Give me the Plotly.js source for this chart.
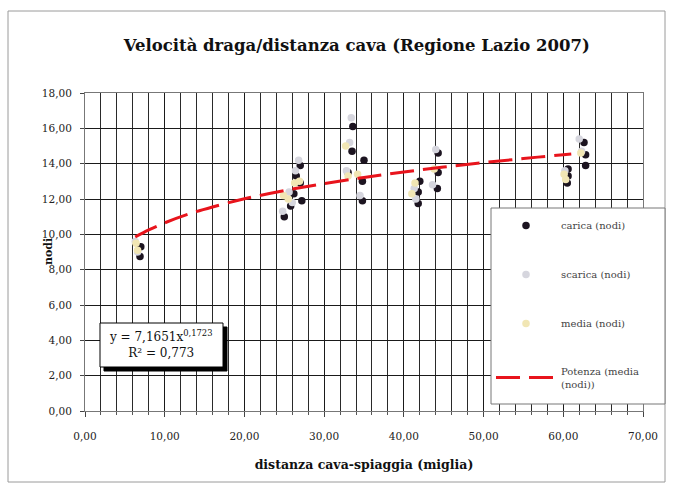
<!DOCTYPE html>
<html>
<head>
<meta charset="utf-8">
<script src="https://cdn.plot.ly/plotly-3.0.1.min.js"></script>
<style>
html,body{margin:0;padding:0;background:#fff;}
#chart{width:673px;height:488px;}
</style>
</head>
<body>
<div id="chart"></div>
<script>
// ---- data ----
const caricaX = [7.0, 6.9, 25.0, 25.8, 26.2, 26.5, 27.0, 27.0, 27.2, 33.6, 33.5, 35.0, 34.8, 34.8, 33.0, 44.3, 44.3, 44.2, 42.0, 41.8, 41.8, 62.6, 62.8, 62.8, 60.6, 60.6, 60.5];
const caricaY = [9.3, 8.75, 11.0, 11.6, 12.3, 13.3, 13.9, 12.9, 11.9, 16.1, 14.7, 14.2, 13.0, 11.9, 13.5, 14.6, 13.5, 12.6, 13.0, 12.4, 11.75, 15.2, 14.5, 13.9, 13.7, 13.3, 12.9];

const scaricaX = [6.3, 6.6, 24.8, 25.6, 26.4, 26.8, 26.0, 33.4, 32.8, 34.5, 33.2, 44.0, 43.6, 41.5, 41.3, 62.0, 60.2, 62.3];
const scaricaY = [9.6, 9.0, 11.3, 12.4, 13.6, 14.2, 11.8, 16.6, 13.6, 12.2, 15.2, 14.8, 12.8, 12.0, 12.6, 15.4, 13.6, 14.7];

const mediaX = [6.4, 6.6, 24.9, 25.5, 26.3, 26.9, 32.7, 33.0, 34.2, 41.0, 41.4, 43.8, 62.2, 60.1, 60.3];
const mediaY = [9.5, 9.1, 12.2, 12.0, 12.9, 13.0, 15.0, 13.3, 13.4, 12.3, 12.9, 13.7, 14.6, 13.4, 13.1];

// power trendline as drawn in the picture
const trendX = [6.3, 8, 10, 13, 16, 20, 25, 30, 35, 40, 45, 50, 55, 60, 61];
const trendY = [9.85, 10.25, 10.65, 11.15, 11.55, 12.01, 12.48, 12.87, 13.22, 13.53, 13.81, 14.06, 14.29, 14.51, 14.55];

const seriesNames = ["carica (nodi)", "scarica (nodi)", "media (nodi)", "Potenza (media<br>(nodi))"];
const titleText = "Velocità draga/distanza cava (Regione Lazio 2007)";
const xTitle = "distanza cava-spiaggia (miglia)";
const yTitle = "nodi";
const eqText = "y = 7,1651x<sup>0,1723</sup><br>R² = 0,773";

const serif = "DejaVu Serif, Liberation Serif, serif";

const traces = [
  {x: caricaX, y: caricaY, name: seriesNames[0], type: "scatter", mode: "markers",
   marker: {color: "#1c1420", size: 7.5}, legendgroup: "a"},
  {x: scaricaX, y: scaricaY, name: seriesNames[1], type: "scatter", mode: "markers",
   marker: {color: "#d6d6de", size: 7.5}, legendgroup: "b"},
  {x: mediaX, y: mediaY, name: seriesNames[2], type: "scatter", mode: "markers",
   marker: {color: "#f1e6b4", size: 7.5}, legendgroup: "c"},
  {x: trendX, y: trendY, name: seriesNames[3], type: "scatter", mode: "lines",
   line: {color: "#e8141c", width: 3, dash: "24px,9px", shape: "spline"}, legendgroup: "d"}
];

const px2x = p => (p - 85) / 558;
const px2y = p => (411 - p) / 318;

const layout = {
  width: 673, height: 488,
  margin: {l: 85, r: 30, t: 93, b: 77},
  paper_bgcolor: "#ffffff",
  plot_bgcolor: "#ffffff",
  separators: ",.",
  font: {family: serif, size: 10.5, color: "#222"},
  title: {text: "<b>" + titleText + "</b>", font: {family: serif, size: 16.5, color: "#111"},
          x: 0.53, xanchor: "center", y: 1 - 45/488, yanchor: "middle", yref: "container"},
  xaxis: {
    range: [0, 70], dtick: 10, tick0: 0, tickformat: ".2f",
    showgrid: true, gridcolor: "#1a1a1a", gridwidth: 1,
    minor: {dtick: 2, showgrid: true, gridcolor: "#2a2a2a", gridwidth: 1, ticks: "outside", ticklen: 3, tickcolor: "#555"},
    ticks: "outside", ticklen: 5, tickcolor: "#444",
    ticklabelstandoff: 10,
    showline: true, linecolor: "#777", linewidth: 1, mirror: true,
    zeroline: false,
    tickfont: {family: serif, size: 10.5, color: "#222"},
    title: {text: "<b>" + xTitle + "</b>", font: {family: serif, size: 12.5, color: "#111"}, standoff: 19}
  },
  yaxis: {
    range: [0, 18], dtick: 2, tick0: 0, tickformat: ".2f",
    showgrid: true, gridcolor: "#1a1a1a", gridwidth: 1,
    ticks: "outside", ticklen: 4, tickcolor: "#444",
    ticklabelstandoff: 6,
    showline: true, linecolor: "#777", linewidth: 1, mirror: true,
    zeroline: false,
    tickfont: {family: serif, size: 10.5, color: "#222"}
  },
  legend: {
    x: px2x(491), y: px2y(211), xanchor: "left", yanchor: "top",
    bgcolor: "rgba(0,0,0,0)", borderwidth: 0,
    font: {family: serif, size: 10, color: "#444"},
    tracegroupgap: 30, itemwidth: 60
  },
  shapes: [
    // outer chart frame
    {type: "rect", xref: "paper", yref: "paper",
     x0: px2x(8), x1: px2x(665), y0: px2y(482), y1: px2y(11),
     line: {color: "#9a9a9a", width: 1}, fillcolor: "rgba(0,0,0,0)", layer: "below"},
    // legend frame
    {type: "rect", xref: "paper", yref: "paper",
     x0: px2x(491), x1: px2x(665), y0: px2y(404), y1: px2y(208),
     line: {color: "#777", width: 1}, fillcolor: "#fff", layer: "above"},
    // equation box shadow
    {type: "rect", xref: "paper", yref: "paper",
     x0: px2x(104), x1: px2x(227), y0: px2y(371), y1: px2y(327),
     line: {color: "#000", width: 1}, fillcolor: "#000", layer: "above"},
    // equation box
    {type: "rect", xref: "paper", yref: "paper",
     x0: px2x(100), x1: px2x(223), y0: px2y(367), y1: px2y(323),
     line: {color: "#000", width: 1}, fillcolor: "#fff", layer: "above"}
  ],
  annotations: [
    {text: eqText, xref: "paper", yref: "paper",
     x: px2x(161), y: px2y(344), xanchor: "center", yanchor: "middle",
     showarrow: false, align: "center", font: {family: serif, size: 12, color: "#111"}},
    {text: "<b>" + yTitle + "</b>", xref: "paper", yref: "paper",
     x: px2x(48), y: 0.5, xanchor: "center", yanchor: "middle", textangle: -90,
     showarrow: false, font: {family: serif, size: 11, color: "#111"}}
  ],
  showlegend: true
};

Plotly.newPlot("chart", traces, layout, {displayModeBar: false, staticPlot: true});
</script>
</body>
</html>
